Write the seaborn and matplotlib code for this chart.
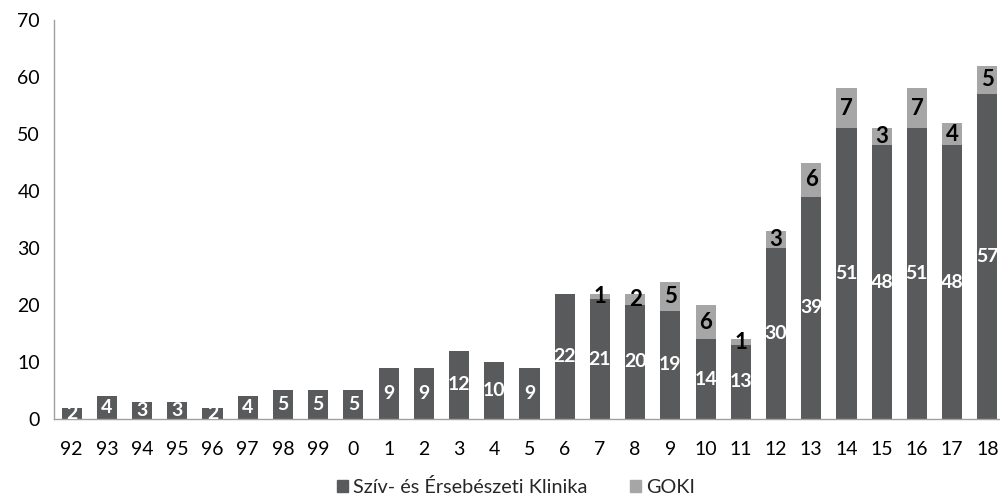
import matplotlib
matplotlib.use("Agg")
import matplotlib.pyplot as plt
from matplotlib.patches import Patch
import seaborn as sns
import pandas as pd

years = ["92", "93", "94", "95", "96", "97", "98", "99", "0", "1", "2", "3", "4",
         "5", "6", "7", "8", "9", "10", "11", "12", "13", "14", "15", "16", "17", "18"]
klinika = [2, 4, 3, 3, 2, 4, 5, 5, 5, 9, 9, 12, 10, 9, 22, 21, 20, 19, 14, 13,
           30, 39, 51, 48, 51, 48, 57]
goki = [0, 0, 0, 0, 0, 0, 0, 0, 0, 0, 0, 0, 0, 0, 0, 1, 2, 5, 6, 1,
        3, 6, 7, 3, 7, 4, 5]

DARK = "#585a5b"
LIGHT = "#a6a6a6"

sns.set_theme(style="white")
plt.rcParams["font.family"] = ["Lato", "DejaVu Sans"]

df = pd.DataFrame({"year": years, "klinika": klinika, "goki": goki})
df["total"] = df["klinika"] + df["goki"]

fig = plt.figure(figsize=(10, 5.01), dpi=100)
ax = fig.add_axes([0.054, 0.1637, 0.951, 0.7963])

# stacked bars: the full total in light grey, the clinic share drawn over it
sns.barplot(data=df, x="year", y="total", order=years, color=LIGHT,
            width=0.57, saturation=1, ax=ax, linewidth=0)
sns.barplot(data=df, x="year", y="klinika", order=years, color=DARK,
            width=0.57, saturation=1, ax=ax, linewidth=0)

for i, (k, g) in enumerate(zip(klinika, goki)):
    ax.text(i, k / 2, str(k), ha="center", va="center", color="white",
            fontsize=14, fontweight="bold", clip_on=True)
    if g > 0:
        ax.text(i, k + g / 2, str(g), ha="center", va="center", color="black",
                fontsize=16, fontweight="bold", clip_on=True)

ax.set_xlim(-0.5, 26.5)
ax.set_ylim(0, 70)
ax.set_yticks(range(0, 71, 10))
ax.set_xlabel("")
ax.set_ylabel("")
ax.tick_params(axis="both", length=0, labelsize=14, colors="black")
ax.tick_params(axis="x", pad=16)
ax.tick_params(axis="y", pad=10)

for side in ("top", "right"):
    ax.spines[side].set_visible(False)
for side in ("left", "bottom"):
    ax.spines[side].set_color("#a0a0a0")
    ax.spines[side].set_linewidth(1.0)

handles = [Patch(color=DARK, label="Szív- és Érsebészeti Klinika"),
           Patch(color=LIGHT, label="GOKI")]
fig.legend(handles=handles, loc="center", bbox_to_anchor=(0.516, 0.028),
           ncol=2, frameon=False, fontsize=14.3, handlelength=0.6,
           handleheight=0.6, handletextpad=0.25, columnspacing=2.1)

fig.savefig("out.png", dpi=100)
